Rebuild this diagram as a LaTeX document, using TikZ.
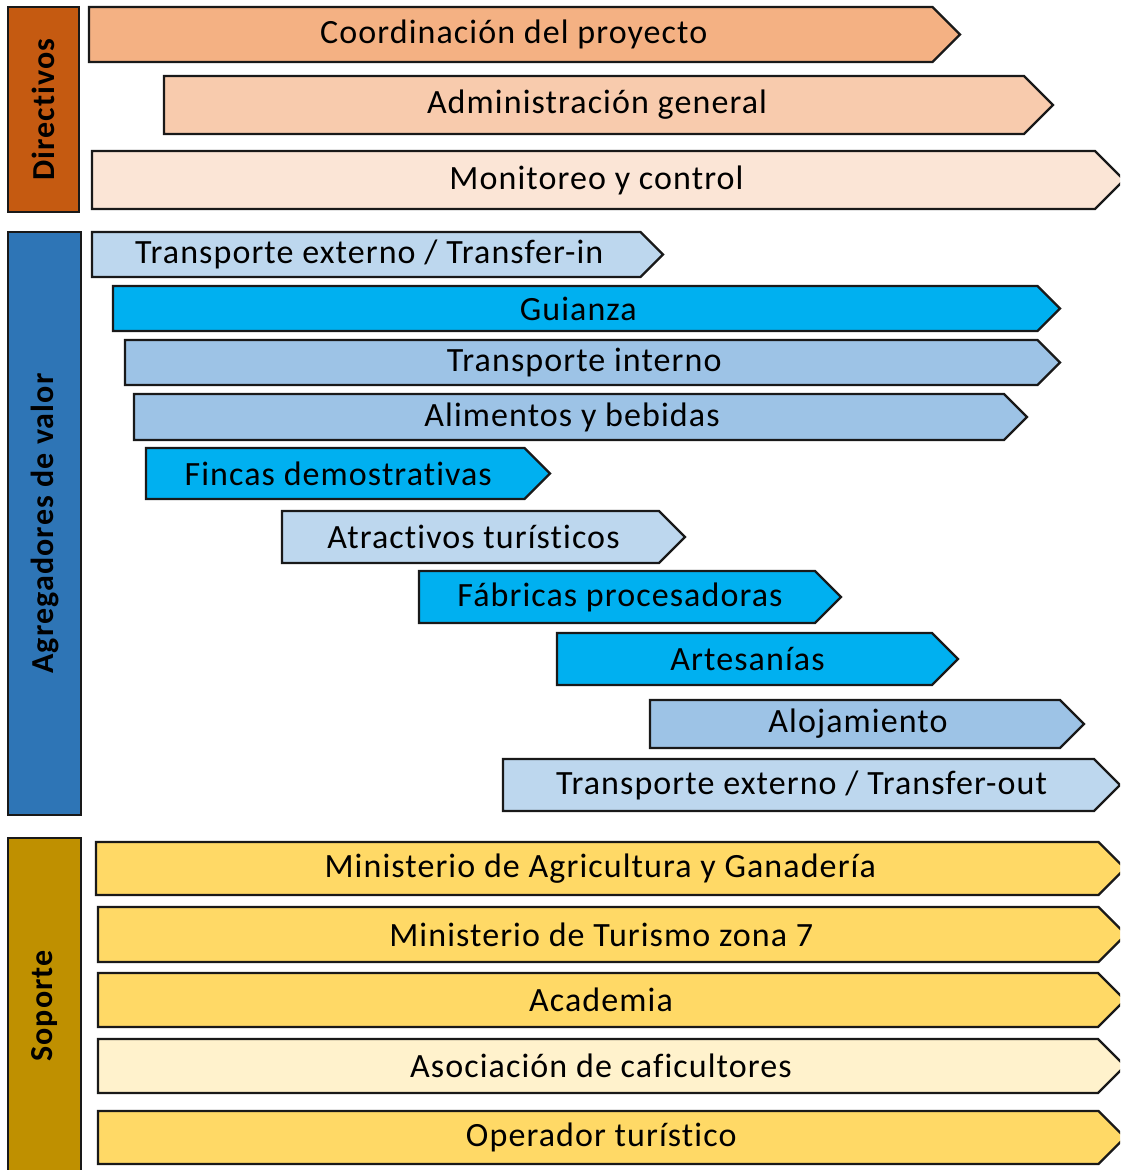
\documentclass[tikz,border=0pt]{standalone}
\usepackage{fontspec}
\setmainfont{Carlito}
\newfontfamily\barfont[LetterSpace=3.2,Ligatures=NoCommon]{Carlito}
\newfontfamily\sidefont[LetterSpace=3.5,Ligatures=NoCommon]{Carlito}
\definecolor{dirside}{HTML}{C55A11}
\definecolor{dirA}{HTML}{F4B183}
\definecolor{dirB}{HTML}{F8CBAD}
\definecolor{dirC}{HTML}{FBE5D6}
\definecolor{aggside}{HTML}{2E75B6}
\definecolor{aggA}{HTML}{BDD7EE}
\definecolor{aggB}{HTML}{00B0F0}
\definecolor{aggC}{HTML}{9DC3E6}
\definecolor{supside}{HTML}{BF9000}
\definecolor{supA}{HTML}{FFD966}
\definecolor{supB}{HTML}{FFF2CC}
\tikzset{
  barline/.style={draw=black!90, line width=2.2pt, line join=miter},
  lbl/.style={inner sep=0pt, font=\barfont\fontsize{34}{38}\selectfont},
  sidebox/.style={draw=black!90, line width=2.2pt, inner sep=0pt},
  sidelbl/.style={inner sep=0pt, rotate=90, font=\sidefont\fontsize{32}{36}\selectfont\bfseries}
}
% #1 name, #2 left, #3 top, #4 bottom, #5 tip x, #6 fill, #7 text
\newcommand\chevbar[7]{%
  \pgfmathsetmacro\chevd{(#4-#3)/2}%
  \draw[barline, fill=#6] (#2,#3) -- ({#5-\chevd},#3) -- (#5,{(#3+#4)/2})
        -- ({#5-\chevd},#4) -- (#2,#4) -- cycle;
  \node[lbl] (#1) at ({(#2+#5-\chevd)/2+3},{(#3+#4)/2}) {#7};
}
% #1 name, #2 left, #3 top, #4 right, #5 bottom, #6 fill, #7 text
\newcommand\sidebar[7]{%
  \draw[sidebox, fill=#6] (#2,#3) rectangle (#4,#5);
  \node[sidelbl] (#1) at ({(#2+#4)/2},{(#3+#5)/2}) {#7};
}
\begin{document}
\begin{tikzpicture}[x=1pt,y=-1pt]
\useasboundingbox (0,0) rectangle (1120,1170);
\clip (0,0) rectangle (1120,1170);
% group labels
\sidebar{directivos}{8}{7}{79}{212}{dirside}{Directivos}
\sidebar{agregadores}{8}{232}{81}{815}{aggside}{Agregadores de valor}
\sidebar{soporte}{8}{838}{81}{1174}{supside}{Soporte}
% management bars
\chevbar{coord}{89}{7}{62}{960}{dirA}{Coordinación  del proyecto}
\chevbar{admin}{164}{76}{134}{1053}{dirB}{Administración general}
\chevbar{monit}{92}{151}{209}{1124}{dirC}{Monitoreo y control}
% value-adding bars
\chevbar{tin}{92}{232}{277}{663}{aggA}{Transporte externo / Transfer-in}
\chevbar{guia}{113}{286}{331}{1060}{aggB}{Guianza}
\chevbar{tint}{125}{340}{385}{1060}{aggC}{Transporte interno}
\chevbar{alim}{134}{394}{440}{1027}{aggC}{Alimentos y bebidas}
\chevbar{finc}{146}{448}{499}{550}{aggB}{Fincas demostrativas}
\chevbar{atra}{282}{511}{563}{685}{aggA}{Atractivos turísticos}
\chevbar{fabr}{419}{571}{623}{841}{aggB}{Fábricas procesadoras}
\chevbar{arte}{557}{633}{685}{958}{aggB}{Artesanías}
\chevbar{aloj}{650}{700}{748}{1084}{aggC}{Alojamiento}
\chevbar{tout}{503}{759}{811}{1120}{aggA}{Transporte externo / Transfer-out}
% support bars
\chevbar{mag}{96}{842}{895}{1125}{supA}{Ministerio de Agricultura y Ganadería}
\chevbar{mtur}{98}{907}{962}{1126}{supA}{Ministerio de Turismo zona 7}
\chevbar{acad}{98}{973}{1027}{1125}{supA}{Academia}
\chevbar{asoc}{98}{1039}{1093}{1125}{supB}{Asociación de caficultores}
\chevbar{oper}{98}{1111}{1164}{1125}{supA}{Operador turístico}
\end{tikzpicture}
\end{document}
